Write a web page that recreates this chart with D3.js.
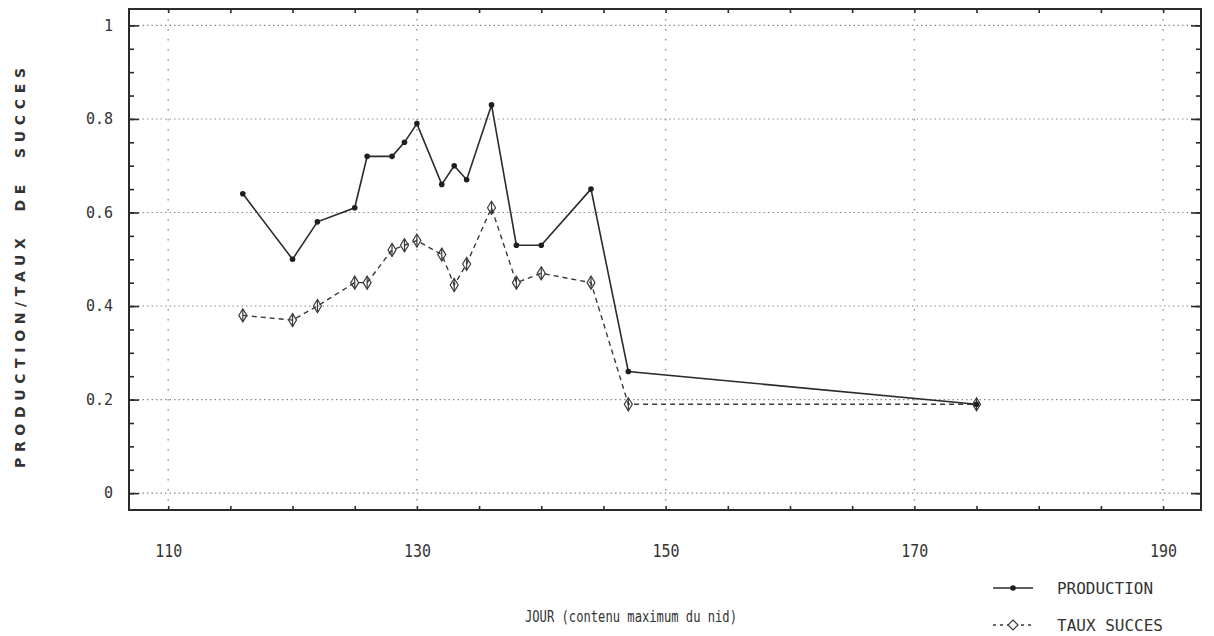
<!DOCTYPE html>
<html>
<head>
<meta charset="utf-8">
<script src="https://cdn.jsdelivr.net/npm/d3@7"></script>
<style>
  html, body { margin: 0; padding: 0; background: #fff; }
  svg { display: block; }
  text { fill: #333; }
</style>
</head>
<body>
<svg id="chart" width="1214" height="636"></svg>
<script>
// Nest production and success rate by day of maximum nest content
const days        = [116, 120, 122, 125, 126, 128, 129, 130, 132, 133, 134, 136, 138, 140, 144, 147, 175];
const production  = [0.64, 0.50, 0.58, 0.61, 0.72, 0.72, 0.75, 0.79, 0.66, 0.70, 0.67, 0.83, 0.53, 0.53, 0.65, 0.26, 0.19];
const tauxSucces  = [0.38, 0.37, 0.40, 0.45, 0.45, 0.52, 0.53, 0.54, 0.51, 0.445, 0.49, 0.61, 0.45, 0.47, 0.45, 0.19, 0.19];

const xTicks      = [110, 130, 150, 170, 190];
const yTicks      = [0, 0.2, 0.4, 0.6, 0.8, 1];
const yTickLabels = ["0", "0.2", "0.4", "0.6", "0.8", "1"];
const seriesNames = ["PRODUCTION", "TAUX SUCCES"];
const xTitle      = "JOUR (contenu maximum du nid)";
const yTitle      = "PRODUCTION/TAUX  DE  SUCCES";

const svg = d3.select("#chart");
const frame = { left: 129, right: 1201, top: 9, bottom: 510 };
const ink = "#2b2b2b";
const mono = "'DejaVu Sans Mono', 'Liberation Mono', monospace";

const x = d3.scaleLinear().domain([106.85, 193.05]).range([frame.left, frame.right]);
const y = d3.scaleLinear().domain([-0.036, 1.035]).range([frame.bottom, frame.top]);

// Grid
const grid = svg.append("g").attr("stroke", "#8a8a8a").attr("fill", "none");
grid.selectAll("line.h").data(yTicks).join("line")
  .attr("x1", frame.left).attr("x2", frame.right)
  .attr("y1", d => y(d)).attr("y2", d => y(d))
  .attr("stroke-width", 1.1).attr("stroke-dasharray", "1.5,3");
grid.selectAll("line.v").data(xTicks).join("line")
  .attr("x1", d => x(d)).attr("x2", d => x(d))
  .attr("y1", frame.top).attr("y2", frame.bottom)
  .attr("stroke-width", 1.3).attr("stroke-dasharray", "1.5,8.5");

// Axes
const minorX = d3.range(110, 191, 5);
const minorY = d3.range(0, 1.001, 0.05);
function styleAxis(g) {
  g.select(".domain").remove();
  g.selectAll(".tick line").attr("stroke", ink).attr("stroke-width", 1.6);
  g.selectAll(".tick text").attr("font-family", mono).attr("font-size", 15).attr("fill", "#333");
}

svg.append("g").attr("transform", `translate(0,${frame.bottom})`)
  .call(d3.axisBottom(x).tickValues(xTicks).tickSize(0).tickPadding(35).tickFormat(d3.format("d")))
  .call(styleAxis)
  .call(g => g.selectAll(".tick text").attr("font-size", 17)
    .attr("textLength", 27).attr("lengthAdjust", "spacingAndGlyphs"));
svg.append("g").attr("transform", `translate(0,${frame.bottom})`)
  .call(d3.axisBottom(x).tickValues(minorX).tickSize(-4).tickFormat(""))
  .call(styleAxis);
svg.append("g").attr("transform", `translate(0,${frame.top})`)
  .call(d3.axisTop(x).tickValues(minorX).tickSize(-4).tickFormat(""))
  .call(styleAxis);

svg.append("g").attr("transform", `translate(${frame.left},0)`)
  .call(d3.axisLeft(y).tickValues(yTicks).tickSize(-10).tickPadding(16)
        .tickFormat((d, i) => yTickLabels[i]))
  .call(styleAxis);
svg.append("g").attr("transform", `translate(${frame.left},0)`)
  .call(d3.axisLeft(y).tickValues(minorY).tickSize(-5).tickFormat(""))
  .call(styleAxis);
svg.append("g").attr("transform", `translate(${frame.right},0)`)
  .call(d3.axisRight(y).tickValues(yTicks).tickSize(-10).tickFormat(""))
  .call(styleAxis);
svg.append("g").attr("transform", `translate(${frame.right},0)`)
  .call(d3.axisRight(y).tickValues(minorY).tickSize(-5).tickFormat(""))
  .call(styleAxis);

// Frame
svg.append("rect")
  .attr("x", frame.left).attr("y", frame.top)
  .attr("width", frame.right - frame.left).attr("height", frame.bottom - frame.top)
  .attr("fill", "none").attr("stroke", ink).attr("stroke-width", 2);

// Series
const prodPts = days.map((d, i) => [x(d), y(production[i])]);
const tauxPts = days.map((d, i) => [x(d), y(tauxSucces[i])]);
const line = d3.line();

svg.append("path").attr("d", line(tauxPts))
  .attr("fill", "none").attr("stroke", "#3a3a3a").attr("stroke-width", 1.4)
  .attr("stroke-dasharray", "5,4");
svg.append("path").attr("d", line(prodPts))
  .attr("fill", "none").attr("stroke", ink).attr("stroke-width", 1.6);

const diamond = "M0,-6.5L4,0L0,6.5L-4,0Z";
const tauxMarks = svg.append("g").attr("stroke", "#3a3a3a").attr("fill", "none").attr("stroke-width", 1.2);
tauxMarks.selectAll("path").data(tauxPts).join("path")
  .attr("transform", d => `translate(${d[0]},${d[1]})`).attr("d", diamond);
tauxMarks.selectAll("line").data(tauxPts).join("line")
  .attr("x1", d => d[0]).attr("x2", d => d[0])
  .attr("y1", d => d[1] - 6.5).attr("y2", d => d[1] + 6.5);

svg.append("g").attr("fill", "#1e1e1e")
  .selectAll("circle").data(prodPts).join("circle")
  .attr("cx", d => d[0]).attr("cy", d => d[1]).attr("r", 2.8);

// Axis titles
svg.append("text")
  .attr("x", 631).attr("y", 617).attr("dy", "0.35em").attr("text-anchor", "middle")
  .attr("font-family", mono).attr("font-size", 15)
  .attr("textLength", 212).attr("lengthAdjust", "spacingAndGlyphs")
  .text(xTitle);

svg.append("text")
  .attr("transform", "translate(20,268) rotate(-90)")
  .attr("dy", "0.35em").attr("text-anchor", "middle")
  .style("white-space", "pre")
  .attr("font-family", "'DejaVu Sans', sans-serif").attr("font-size", 14).attr("font-weight", "bold")
  .attr("textLength", 400).attr("lengthAdjust", "spacing")
  .text(yTitle);

// Legend
const legend = svg.append("g");
const legY = [588, 625];
legend.append("line").attr("x1", 993).attr("x2", 1033).attr("y1", legY[0]).attr("y2", legY[0])
  .attr("stroke", ink).attr("stroke-width", 1.6);
legend.append("circle").attr("cx", 1013).attr("cy", legY[0]).attr("r", 2.8).attr("fill", "#1e1e1e");
legend.append("line").attr("x1", 993).attr("x2", 1033).attr("y1", legY[1]).attr("y2", legY[1])
  .attr("stroke", "#3a3a3a").attr("stroke-width", 1.3).attr("stroke-dasharray", "3,4");
legend.append("path").attr("transform", `translate(1013,${legY[1]})`)
  .attr("d", "M0,-5L5,0L0,5L-5,0Z").attr("fill", "#fff").attr("stroke", "#3a3a3a").attr("stroke-width", 1.2);
legend.selectAll("text").data(seriesNames).join("text")
  .attr("x", 1057).attr("y", (d, i) => legY[i]).attr("dy", "0.35em")
  .attr("font-family", mono).attr("font-size", 16)
  .attr("textLength", (d, i) => i === 0 ? 96 : 106).attr("lengthAdjust", "spacingAndGlyphs")
  .text(d => d);
</script>
</body>
</html>
